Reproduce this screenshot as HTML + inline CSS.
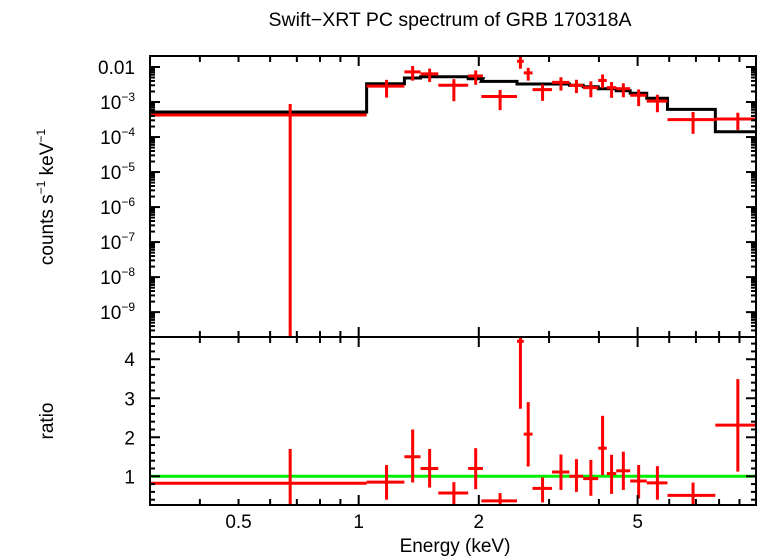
<!DOCTYPE html>
<html><head><meta charset="utf-8"><style>
html,body{margin:0;padding:0;background:#fff;}
svg{display:block;font-family:"Liberation Sans",sans-serif;}
</style></head><body>
<svg id="chart" width="758" height="556" viewBox="0 0 758 556" xmlns="http://www.w3.org/2000/svg">
<defs>
<clipPath id="clipTop"><rect x="150" y="56" width="606" height="281"/></clipPath>
<clipPath id="clipBot"><rect x="150" y="337" width="606" height="168"/></clipPath>
</defs>
<text x="450" y="26" font-size="19.5" text-anchor="middle">Swift−XRT PC spectrum of GRB 170318A</text>
<text transform="translate(53,197) rotate(-90)" font-size="19" text-anchor="middle">counts s<tspan font-size="12" dy="-8">−1</tspan><tspan dy="8"> keV</tspan><tspan font-size="12" dy="-8">−1</tspan></text>
<text transform="translate(53,421) rotate(-90)" font-size="19" text-anchor="middle">ratio</text>
<text x="455" y="552" font-size="19" text-anchor="middle">Energy (keV)</text>
<g id="gTop" clip-path="url(#clipTop)"></g>
<g id="gBot" clip-path="url(#clipBot)"></g>
<g id="gAxes"></g>
</svg>
<script>
const binLo = [0.3,1.047,1.302,1.429,1.583,1.881,2.03,2.493,2.592,2.727,3.052,3.374,3.652,3.984,4.185,4.42,4.79,5.27,5.94,7.83];
const binHi = [1.047,1.302,1.429,1.583,1.881,2.048,2.493,2.592,2.727,3.052,3.374,3.652,3.984,4.185,4.42,4.79,5.27,5.94,7.83,10.0];
const modelLog = [-3.286,-2.477,-2.314,-2.277,-2.277,-2.334,-2.409,-2.486,-2.486,-2.486,-2.486,-2.523,-2.563,-2.62,-2.62,-2.677,-2.751,-2.894,-3.209,-3.849];
const ratio = [0.82,0.85,1.5,1.2,0.57,1.2,0.37,4.46,2.08,0.69,1.11,1.0,0.94,1.72,1.07,1.14,0.88,0.83,0.51,2.31];
const ratioLo = [0.0,0.4,0.84,0.71,0.2,0.67,0.15,2.73,1.25,0.33,0.65,0.6,0.5,1.03,0.55,0.65,0.43,0.4,0.2,1.12];
const ratioHi = [1.7,1.29,2.2,1.7,0.85,1.72,0.57,6.0,2.9,0.97,1.56,1.44,1.42,2.55,1.55,1.63,1.29,1.26,0.84,3.49];
const topTickExp = [-2,-3,-4,-5,-6,-7,-8,-9];
const ratioTicks = [1,2,3,4];
const xTickLabels = [0.5,1,2,5];

const NS="http://www.w3.org/2000/svg";
const X0=150,X1=756,YT=56,YM=337,YB=505;
const xMin=Math.log10(0.3),xMax=Math.log10(9.9);
const xs=e=>X0+(Math.log10(e)-xMin)/(xMax-xMin)*(X1-X0);
const yTopLog=-1.686,yBotLog=-9.71;
const yt=v=>{const l=v>0?Math.log10(v):-20;return YT+(yTopLog-l)/(yTopLog-yBotLog)*(YM-YT);};
const rTop=4.57,rBot=0.264;
const yr=v=>YM+(rTop-v)/(rTop-rBot)*(YB-YM);
function mk(parent,tag,attrs){const e=document.createElementNS(NS,tag);for(const k in attrs)e.setAttribute(k,attrs[k]);parent.appendChild(e);return e;}
const gTop=document.getElementById('gTop'),gBot=document.getElementById('gBot'),gAx=document.getElementById('gAxes');

let d='';
for(let i=0;i<binLo.length;i++){
  const y=yt(Math.pow(10,modelLog[i]));
  d+=(i===0?'M':'L')+xs(binLo[i])+','+y+' L'+xs(binHi[i])+','+y+' ';
}
const ml=mk(gTop,'path',{d:d,fill:'none',stroke:'#000','stroke-width':3});



const gl=mk(gBot,'line',{x1:X0,x2:X1,y1:yr(1),y2:yr(1),stroke:'#00ee00','stroke-width':3});



for(let i=0;i<binLo.length;i++){
  const m=Math.pow(10,modelLog[i]);
  const xc=xs((binLo[i]+binHi[i])/2),xl=xs(binLo[i]),xh=xs(binHi[i]);
  const g1=mk(gTop,'g',{stroke:'#ff0000','stroke-width':3});
  
  
  mk(g1,'line',{x1:xl,x2:xh,y1:yt(m*ratio[i]),y2:yt(m*ratio[i])});
  mk(g1,'line',{x1:xc,x2:xc,y1:yt(m*ratioHi[i]),y2:Math.min(yt(m*ratioLo[i]),400)});
  const g2=mk(gBot,'g',{stroke:'#ff0000','stroke-width':3});
  
  
  mk(g2,'line',{x1:xl,x2:xh,y1:yr(ratio[i]),y2:yr(ratio[i])});
  mk(g2,'line',{x1:xc,x2:xc,y1:yr(ratioHi[i]),y2:yr(ratioLo[i])});
}

mk(gAx,'rect',{x:X0,y:YT,width:X1-X0,height:YM-YT,fill:'none',stroke:'#000','stroke-width':2});
mk(gAx,'rect',{x:X0,y:YM,width:X1-X0,height:YB-YM,fill:'none',stroke:'#000','stroke-width':2});
const xt=[0.3,0.4,0.5,0.6,0.7,0.8,0.9,1,2,3,4,5,6,7,8,9];
xt.forEach(e=>{
  const x=xs(e);if(x<X0+1||x>X1-1)return;
  const L=(e===1||e===2||e===5)?10:6;
  [YT,YM].forEach(y=>mk(gAx,'line',{x1:x,x2:x,y1:y,y2:y+L,stroke:'#000','stroke-width':2}));
  [YM,YB].forEach(y=>mk(gAx,'line',{x1:x,x2:x,y1:y,y2:y-L,stroke:'#000','stroke-width':2}));
});
xTickLabels.forEach(e=>{
  const t=mk(gAx,'text',{x:xs(e),y:528,'font-size':19,'text-anchor':'middle'});t.textContent=String(e);
  
  
});
for(let ex=-10;ex<=-2;ex++){
  for(let k=1;k<10;k++){
    const v=k*Math.pow(10,ex),y=yt(v);
    if(y<YT+1||y>YM-1)continue;
    const L=k===1?10:5;
    mk(gAx,'line',{x1:X0,x2:X0+L,y1:y,y2:y,stroke:'#000','stroke-width':2});
    mk(gAx,'line',{x1:X1,x2:X1-L,y1:y,y2:y,stroke:'#000','stroke-width':2});
  }
}
topTickExp.forEach(ex=>{
  const y=yt(Math.pow(10,ex))+7;
  const t=mk(gAx,'text',{x:135,y:y,'font-size':19,'text-anchor':'end'});
  
  
  if(ex===-2){t.textContent='0.01';}
  else{t.innerHTML='10<tspan font-size="12" dy="-8">−'+(-ex)+'</tspan>';}
});
for(let v=0.4;v<4.6;v+=0.2){
  const r=Math.round(v*10)/10,y=yr(r);
  const L=(Math.abs(r-Math.round(r))<1e-6)?10:5;
  mk(gAx,'line',{x1:X0,x2:X0+L,y1:y,y2:y,stroke:'#000','stroke-width':2});
  mk(gAx,'line',{x1:X1,x2:X1-L,y1:y,y2:y,stroke:'#000','stroke-width':2});
}
ratioTicks.forEach(v=>{
  const t=mk(gAx,'text',{x:135,y:yr(v)+7,'font-size':19,'text-anchor':'end'});t.textContent=String(v);
  
  
});
</script>
</body></html>
